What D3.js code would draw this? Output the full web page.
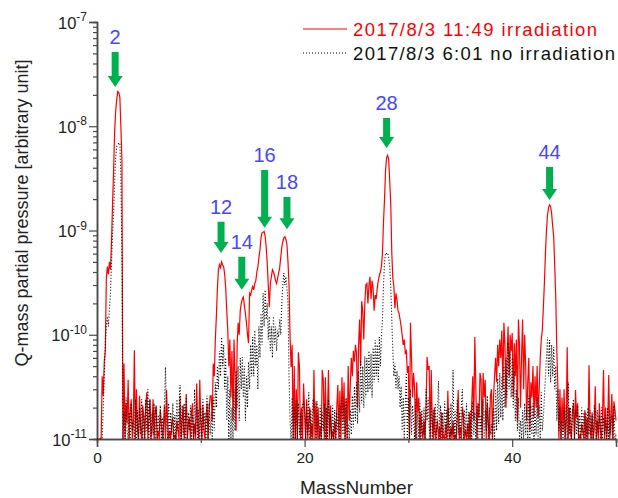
<!DOCTYPE html>
<html>
<head>
<meta charset="utf-8">
<script src="https://cdn.jsdelivr.net/npm/d3@7"></script>
<style>
  body { margin: 0; background: #fff; }
  svg { display: block; }
  text { font-family: "Liberation Sans", Arial, sans-serif; }
</style>
</head>
<body>
<svg id="chart" width="618" height="498"></svg>
<script>
// Mass scan: first mass and step of the sampled spectrum (amu)
const massStart = 0;
const massStep = 0.1;
// Partial pressures are listed in units of 1e-11 (arbitrary unit)
const UNIT = 1e-11;

// 2017/8/3 11:49, irradiation (one row per mass number, 0.1 amu steps)
const irradiation = [
  0.5,0.5,0.5,0.5,0.5,4,2.6,5.5,7,35,
  45,38,50,42,80,180,380,900,1400,1800,
  2150,2100,1900,1000,480,0.6,5.3,0.6,2.2,1.4,
  3.7,0.6,1.8,2.4,0.7,1.5,7.1,0.6,3,1.2,
  0.6,2.6,1.3,0.6,2.1,1.7,0.6,2.2,2.8,0.7,
  1.6,2.4,0.6,1.3,2.4,0.7,1.8,2.1,0.6,1.2,
  0.6,1.9,1.4,0.6,1.3,2.1,0.6,2.95,1.5,0.6,
  1.2,0.6,1.4,1.6,0.6,1.1,0.6,1.5,1.2,0.6,
  2.6,0.6,1.5,2.1,0.7,1.3,2.7,0.6,1.4,1.6,
  0.6,1.8,2.2,0.6,1.4,0.7,3.4,1.3,0.6,3.7,
  1.5,0.6,2.1,1.2,0.6,1.6,2.2,0.6,1.9,2.6,
  2.6,1.5,5.3,4,9,15,28,42,47,44,
  50,47,45,38,28,17,11,5,9,2.5,
  7,1.5,9,4,1.2,8,13,10,17,20,
  22,23,19,16,13,10,8.3,25,24,27,
  29,27,31,33,40,45,55,65,85,95,
  96,98,88,69,48,30,18.5,31,36,42,
  40,37,33,31,35,39,44,55,69,78,
  85,87,82,73,50,30,9.5,4.9,8,1,
  5,0.6,3,0.6,6.8,5,0.6,2,0.6,3.4,
  1.9,0.6,2.4,0.6,1.5,2,0.6,1.4,0.6,4.6,
  0.6,2.3,0.6,2,0.6,1.3,0.6,4.6,3.7,0.6,
  3.9,0.6,1.7,4.6,0.6,2.1,0.6,1.2,0.6,1.5,
  0.6,2,3.3,0.6,2.9,0.6,3.9,1.5,3.5,0.6,
  2.4,0.6,5,1.5,3.2,6,4,7,5.5,8,
  6.7,2,8,14,5,21,17,9,20,30,
  31,20,30,36,22,33,28,17,24,22,
  28,33,37,40,45,60,120,200,380,500,
  527,480,300,180,61,35,29,18,25,21.6,
  17,16,14,12,10,8,9,6.7,7,4.3,
  5,0.6,13,6,2.5,4.3,3,0.6,3.5,1.8,
  2.5,0.6,1.8,1.2,0.6,1.5,0.6,2,6.1,4.6,
  5,0.6,4.6,1.5,0.6,2,0.6,1.2,1.5,0.6,
  1.3,0.6,1.8,0.6,1.1,0.6,1.4,0.6,2.9,1.2,
  0.6,1.3,0.6,1.5,0.6,1.1,0.6,1.6,2.95,0.6,
  1.3,0.6,2,1.7,0.6,1.2,0.6,1.4,0.6,1.8,
  0.6,2.2,4,1.5,9.5,3,0.6,2.2,1.6,4.3,
  3.7,0.6,4.3,2.5,3.7,0.6,2.2,1.4,0.6,2.6,
  3,0.6,2.5,4,6,3.5,8,5,9,6,
  11,3,13,8,2,6,12,4,10,7,
  10.4,2.5,8.3,4,9,1.5,14,8,2,6,
  14,3,10,5,1.5,3.5,6,1.2,3.5,2.5,
  5,1.6,4,2,5,1.6,3,6,9,11,
  18,31,60,100,140,165,176,170,145,110,
  87,45,22,7,3.2,0.6,3,0.6,2.5,1.2,
  3,0.6,1.5,7.6,0.6,2,1.2,0.6,1.8,2.2,
  0.6,2.95,1.6,2.2,0.6,1.1,0.6,1.4,1.2,0.6,
  1.9,0.6,1.6,0.6,5.1,1.3,0.6,1.8,0.6,1.2,
  3.2,0.6,1.5,0.6,2.2,1.2,0.6,1.7,4.6,0.6,
  2,0.6,1.4,4.1,0.6,1.6,2.7,0.6,2.3,1.9,
  1.5
];

// 2017/8/3 6:01, no irradiation
const noIrradiation = [
  0.5,0.5,0.5,0.5,0.5,0.6,2,4,8,12,
  15,12,18,25,50,90,150,300,500,640,
  660,690,690,330,60,0.6,1.8,0.6,2.5,1.2,
  0.6,1.8,0.6,2.2,1.2,1.5,0.6,2.4,0.6,1.9,
  0.6,2,1.1,2.4,0.6,1.7,0.6,2.4,1.2,3,
  0.6,2.4,0.6,1.8,1.1,2.2,0.6,2,0.6,1.7,
  1.2,2.1,0.6,1.6,0.6,2.3,4.9,1.5,0.6,2.2,
  0.6,1.8,1.1,2.2,0.6,1.7,0.6,2.4,1.2,1.9,
  3.3,0.6,2.1,1.1,2.2,0.6,2.6,0.6,1.8,1.2,
  2.1,0.6,1.7,0.6,3,1.1,2.3,0.6,1.9,0.6,
  2,0.6,2.4,1.2,1.8,0.6,2.6,0.6,2.2,1.1,
  1.8,0.6,2.5,1.2,3.5,2,5,3,7,4,
  9.5,5,8,3,6,1.5,4,1,3,0.6,
  2,0.6,3,1.2,4.5,2,5,1.5,6,3,
  6.1,2.5,5,1.5,4,2,5.5,3,8,4,
  9.5,4,11,5,8,3,12,6,16,8,
  25,12,27,14,20,9,15,7,12,6,
  15,8,12,7,11,9.5,14,10,20,30,
  39,30,36,28,20,4,1.5,0.6,2.5,0.6,
  2,0.6,2.4,0.6,2.2,1.1,1.8,0.6,2.1,2.3,
  1.8,0.6,2.2,1.1,2.8,0.6,1.9,0.6,2.4,2.2,
  1.4,0.6,2.3,1.1,0.6,2.1,0.6,1.8,1.2,2.2,
  0.6,2,0.6,2.4,1.1,1.7,0.6,2.1,0.6,1.9,
  0.6,1.8,1.2,2.1,0.6,1.9,2.5,1.1,2.2,0.6,
  2.5,0.6,1.4,0.6,1.9,1.1,2.6,1.3,3.2,1.5,
  3.5,1.4,4.5,1.8,5.7,2.2,5,2,6.2,2.5,
  6,2.8,7,3,6.6,2.5,7.5,3.5,8.9,4,
  8,3.5,9.5,5,9.5,14,30,50,61,60,
  61,55,45,29,14,7,4,5.3,3,4.5,
  3,4,2,3.2,1.2,2.5,0.6,2.2,4.3,0.6,
  2.5,0.6,3,1.1,2.1,1.5,0.6,2.4,0.6,1.8,
  0.6,2.2,0.6,1.9,1.1,2,0.6,3,1.5,2.5,
  1.3,0.6,2.3,0.6,1.9,1.1,2.2,0.6,1.7,3.6,
  0.6,2.1,0.6,1.8,1.1,2.3,0.6,1.9,0.6,2,
  0.6,2.2,1.1,4.6,0.6,1.9,0.6,2.4,1.1,1.8,
  0.6,2.1,3,0.6,1.9,1.1,2.2,0.6,1.8,0.6,
  1.9,0.6,2.3,1.1,1.8,0.6,2.1,0.6,2.2,1.1,
  1.7,0.6,2.4,0.6,1.9,1.2,2.6,0.6,2,1.1,
  1.4,0.6,2,0.6,3,1.2,3.8,1.4,4.3,1.6,
  4,1.5,5,2,6,2.5,8.4,3,7,2.5,
  6,2,4.5,1.5,3,1.2,2.5,0.6,1.5,0.6,
  1.9,0.6,2.2,1.1,2,0.6,2.6,0.6,2.1,1.1,
  2.2,0.6,1.9,1.1,2.5,0.6,2.1,0.6,2.8,1.2,
  1.6,2.5,4,6,9.5,4,8.9,3.5,8,4,
  7.6,3,5,1.5,3,1.2,2,0.6,1.5,0.6,
  1.9,0.6,2.1,0.6,3.5,1.1,2,0.6,1.8,2.4,
  0.6,1.9,1.1,2.1,0.6,1.7,0.6,2,1.1,1.8,
  0.6,1.8,0.6,2,1.1,1.9,0.6,1.7,0.6,2.1,
  1.8,0.6,1.9,1.1,1.7,0.6,2,0.6,1.6,1.1,
  1.7,0.6,2,0.6,1.9,1.1,1.7,0.6,2.1,0.6,
  1.1
];

// Axis ticks
const xMajorTicks = [0, 20, 40];
const xMinorTicks = [10, 30, 50];
const yDecades = [-11, -10, -9, -8, -7];

// Legend entries
const legendLabels = ["2017/8/3 11:49  irradiation", "2017/8/3 6:01  no irradiation"];

// Peak annotations: mass number label, arrow position and pressure at arrow tail / tip
const peakLabels = ["2", "12", "14", "16", "18", "28", "44"];
const peakArrowMass = [1.75, 11.95, 13.95, 16.15, 18.3, 27.9, 43.6];
const peakArrowTail = [5150, 121, 56, 381, 210, 1200, 406];
const peakArrowTip = [2380, 61, 27, 106, 103, 618, 196];

const svg = d3.select("#chart");
const x = d3.scaleLinear().domain([0, 50]).range([97, 616]);
const y = d3.scaleLog().domain([1e-11, 1e-7]).range([439, 22]);
const yFloor = y.domain()[0];
const axisColor = "#4a4a4a";

// ---- y axis (log) ----
const yMinor = [];
yDecades.slice(0, -1).forEach(e => {
  for (let k = 2; k <= 9; k++) yMinor.push(k * Math.pow(10, e));
});
const yMinorAxis = svg.append("g")
  .attr("transform", "translate(97,0)")
  .call(d3.axisLeft(y).tickValues(yMinor).tickSize(4).tickFormat(""));
const yMajorAxis = svg.append("g")
  .attr("transform", "translate(97,0)")
  .call(d3.axisLeft(y).tickValues(yDecades.map(e => Math.pow(10, e))).tickSize(8).tickFormat(""));
[yMinorAxis, yMajorAxis].forEach(g => {
  g.select(".domain").attr("stroke", axisColor).attr("stroke-width", 1.5);
  g.selectAll(".tick line").attr("stroke", axisColor).attr("stroke-width", 1.2);
});
yMajorAxis.selectAll(".tick").each(function (d, i) {
  const t = d3.select(this).append("text")
    .attr("x", -10).attr("y", 6)
    .attr("text-anchor", "end")
    .attr("fill", "#222")
    .style("font-size", "16.5px");
  t.append("tspan").text("10");
  t.append("tspan").attr("dy", -7.5).style("font-size", "12px").text(String(yDecades[i]));
});

// ---- x axis ----
const xMinorAxis = svg.append("g")
  .attr("transform", "translate(0,439)")
  .call(d3.axisBottom(x).tickValues(xMinorTicks).tickSize(4).tickFormat(""));
const xMajorAxis = svg.append("g")
  .attr("transform", "translate(0,439)")
  .call(d3.axisBottom(x).tickValues(xMajorTicks).tickSize(8).tickFormat(d3.format("d")));
[xMinorAxis, xMajorAxis].forEach(g => {
  g.select(".domain").attr("stroke", axisColor).attr("stroke-width", 1.5);
  g.selectAll(".tick line").attr("stroke", axisColor).attr("stroke-width", 1.2);
});
xMajorAxis.selectAll(".tick text")
  .attr("y", 13).attr("dy", "0.71em")
  .attr("fill", "#222")
  .style("font-size", "15.5px")
  .style("font-family", "'Liberation Sans', Arial, sans-serif");

// ---- axis titles ----
svg.append("text")
  .attr("x", x(25)).attr("y", 494)
  .attr("text-anchor", "middle")
  .attr("fill", "#222")
  .style("font-size", "19px")
  .text("MassNumber");
svg.append("text")
  .attr("transform", "translate(28,213) rotate(-90)")
  .attr("text-anchor", "middle")
  .attr("fill", "#222")
  .style("font-size", "18px")
  .text("Q-mass partial pressure [arbitrary unit]");

// ---- spectra ----
const line = d3.line()
  .x((d, i) => x(massStart + i * massStep))
  .y(d => y(Math.max(d * UNIT, yFloor)));

svg.append("path")
  .datum(irradiation)
  .attr("fill", "none")
  .attr("stroke", "#ff0000")
  .attr("stroke-width", 1.2)
  .attr("d", line);

svg.append("path")
  .datum(noIrradiation)
  .attr("fill", "none")
  .attr("stroke", "#000")
  .attr("stroke-width", 1.1)
  .attr("stroke-dasharray", "1,2")
  .attr("d", line);

// ---- legend ----
const legend = svg.append("g");
const legendColors = ["#ff0000", "#111"];
const legendDash = [null, "1,2"];
const legendWidths = [244, 262];
legendLabels.forEach((label, i) => {
  const ly = 29 + i * 24;
  legend.append("line")
    .attr("x1", 303).attr("x2", 347).attr("y1", ly).attr("y2", ly)
    .attr("stroke", i === 0 ? "#ff0000" : "#000")
    .attr("stroke-width", 1)
    .attr("stroke-dasharray", legendDash[i]);
  legend.append("text")
    .attr("x", 353).attr("y", ly + 7)
    .attr("fill", legendColors[i])
    .attr("textLength", legendWidths[i])
    .attr("lengthAdjust", "spacing")
    .style("font-size", "18.5px")
    .text(label);
});

// ---- peak annotations ----
const arrowGreen = "#00b050";
const ann = svg.append("g");
peakLabels.forEach((label, i) => {
  const ax = x(peakArrowMass[i]);
  const yTail = y(peakArrowTail[i] * UNIT);
  const yTip = y(peakArrowTip[i] * UNIT);
  const headH = 11, shaftW = 3.5, headW = 7.5;
  const yNeck = yTip - headH;
  ann.append("path")
    .attr("fill", arrowGreen)
    .attr("d", `M${ax - shaftW},${yTail} L${ax + shaftW},${yTail} L${ax + shaftW},${yNeck} ` +
               `L${ax + headW},${yNeck} L${ax},${yTip} L${ax - headW},${yNeck} L${ax - shaftW},${yNeck} Z`);
  ann.append("text")
    .attr("x", ax).attr("y", yTail - 8)
    .attr("text-anchor", "middle")
    .attr("fill", "#4646ff")
    .style("font-size", "20px")
    .text(label);
});
</script>
</body>
</html>
